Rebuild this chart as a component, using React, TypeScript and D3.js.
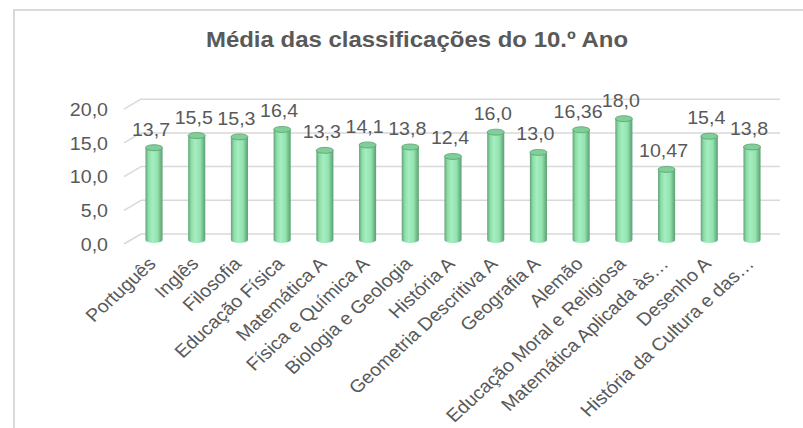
import React from 'react';
import * as d3 from 'd3';

const categories = [
  'Português', 'Inglês', 'Filosofia', 'Educação Física', 'Matemática A',
  'Física e Química A', 'Biologia e Geologia', 'História A', 'Geometria Descritiva A',
  'Geografia A', 'Alemão', 'Educação Moral e Religiosa', 'Matemática Aplicada às…',
  'Desenho A', 'História da Cultura e das…',
];
const values = [13.7, 15.5, 15.3, 16.4, 13.3, 14.1, 13.8, 12.4, 16.0, 13.0, 16.36, 18.0, 10.47, 15.4, 13.8];
const valueLabels = ['13,7', '15,5', '15,3', '16,4', '13,3', '14,1', '13,8', '12,4', '16,0', '13,0', '16,36', '18,0', '10,47', '15,4', '13,8'];
const yTicks = [0, 5, 10, 15, 20];

const W = 803;
const H = 428;
const FONT = '"Liberation Sans", Arial, sans-serif';
const TXT = '#595959';
const SX = 1.09; // the original picture is a bit stretched horizontally

const App: React.FC = () => {
  const x = d3.scalePoint<string>().domain(categories).range([154, 752]);
  const step = x.step();
  const barW = step * 0.4;
  const y = d3.scaleLinear().domain([0, 20]).range([244, 109.2]);
  const depth = 10; // back wall offset
  const barOff = 4; // bars sit a bit behind the front edge
  const wallLeft = 141;
  const wallRight = 780;
  const ry = 3;

  return (
    <svg width={W} height={H} style={{ position: 'absolute', left: 0, top: 0, fontFamily: FONT }}>
      <defs>
        <linearGradient id="cyl" x1="0" x2="1" y1="0" y2="0">
          <stop offset="0%" stopColor="#5fa676" />
          <stop offset="18%" stopColor="#8fdcaa" />
          <stop offset="40%" stopColor="#a4eebf" />
          <stop offset="70%" stopColor="#94e3b0" />
          <stop offset="100%" stopColor="#5a9f70" />
        </linearGradient>
      </defs>
      <rect x={0} y={0} width={W} height={H} fill="#fff" />
      {/* chart frame */}
      <path d={`M14,${H} L14,10 L${W},10`} fill="none" stroke="#d9d9d9" strokeWidth={2} />

      <text transform={`translate(417,47) scale(${SX},1)`} textAnchor="middle" fontSize={22} fontWeight="bold" fill={TXT}>
        Média das classificações do 10.º Ano
      </text>

      {/* gridlines on back wall + side wall diagonals */}
      {yTicks.map(t => (
        <g key={t}>
          <line x1={wallLeft} x2={wallRight} y1={y(t) - depth} y2={y(t) - depth} stroke="#d9d9d9" strokeWidth={1.5} />
          <line x1={124} x2={wallLeft} y1={y(t)} y2={y(t) - depth} stroke="#d9d9d9" strokeWidth={1.5} />
          <text transform={`translate(108,${y(t) + 2}) scale(${SX},1)`} textAnchor="end" dominantBaseline="middle" fontSize={18} fill={TXT}>
            {d3.format('.1f')(t).replace('.', ',')}
          </text>
        </g>
      ))}

      {/* cylinders */}
      {categories.map((c, i) => {
        const cx = x(c) as number;
        const base = y(0) - barOff;
        const top = y(values[i]) - barOff;
        return (
          <g key={c}>
            <path
              d={`M${cx - barW / 2},${top} L${cx - barW / 2},${base} A${barW / 2},${ry} 0 0 0 ${cx + barW / 2},${base} L${cx + barW / 2},${top} Z`}
              fill="url(#cyl)"
            />
            <ellipse cx={cx} cy={top} rx={barW / 2} ry={ry} fill="#7fcf98" stroke="#5f9f73" strokeWidth={0.8} />
            <text transform={`translate(${cx - 3},${top - 12}) scale(${SX},1)`} textAnchor="middle" fontSize={18} fill={TXT}>
              {valueLabels[i]}
            </text>
          </g>
        );
      })}

      {/* category labels */}
      {categories.map(c => {
        const cx = (x(c) as number) + 3;
        return (
          <text key={c} transform={`translate(${cx},${265}) scale(${SX},1) rotate(-45)`} textAnchor="end" fontSize={18} fill={TXT}>
            {c}
          </text>
        );
      })}
    </svg>
  );
};

export default App;
